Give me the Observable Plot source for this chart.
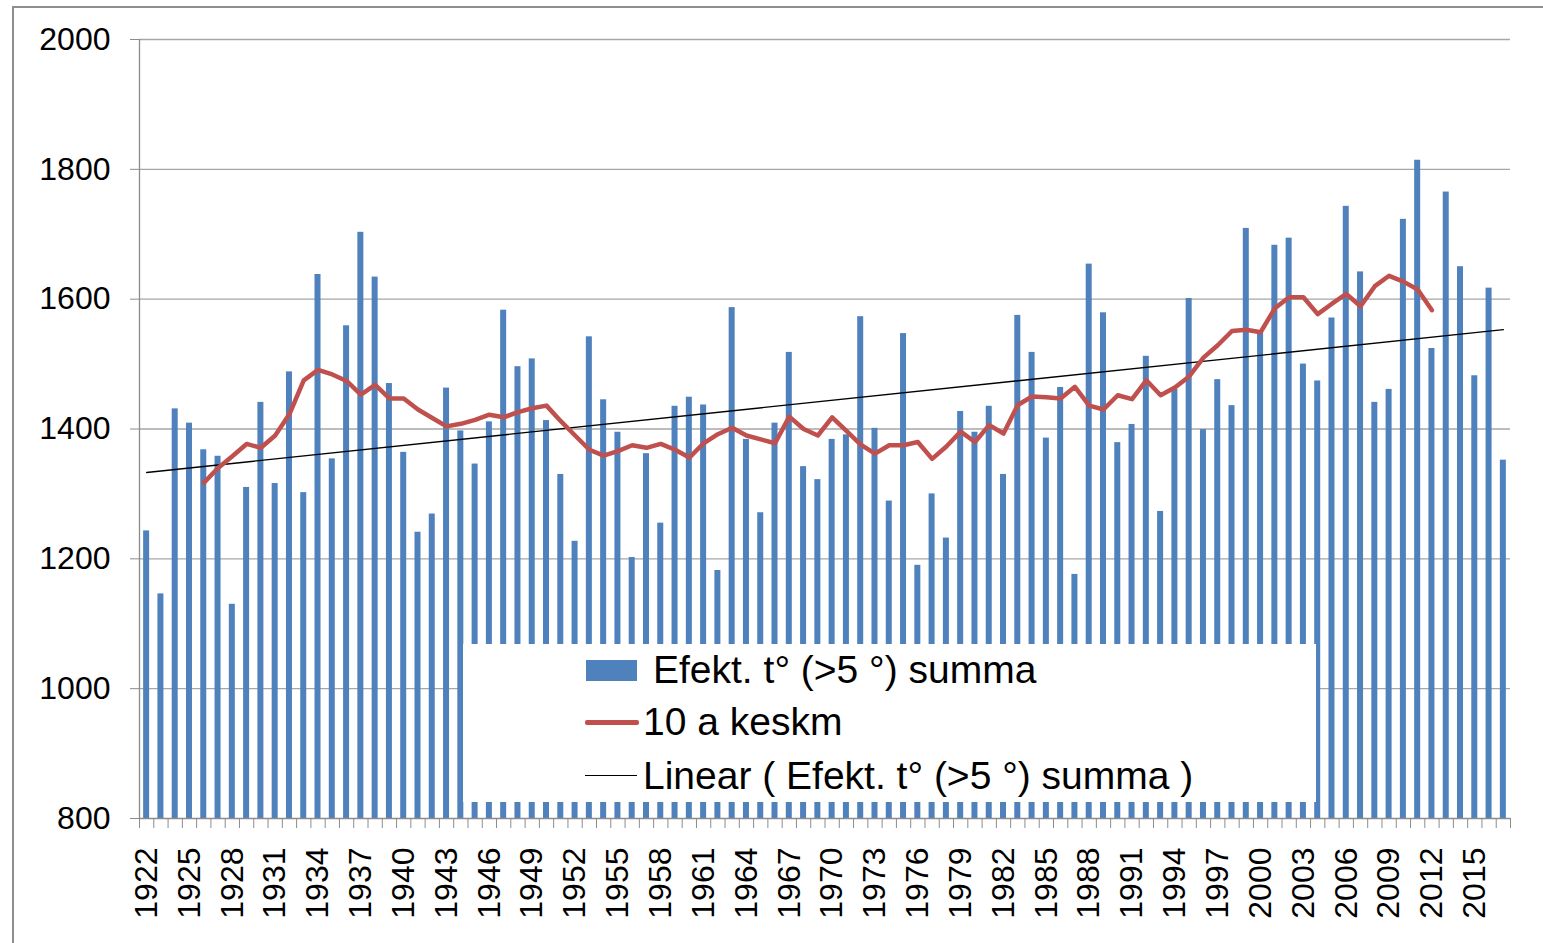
<!DOCTYPE html>
<html>
<head>
<meta charset="utf-8">
<script src="https://cdn.jsdelivr.net/npm/d3@7"></script>
<script src="https://cdn.jsdelivr.net/npm/@observablehq/plot@0.6"></script>
<style>
  html, body { margin: 0; padding: 0; background: #fff; overflow: hidden; }
  #wrap { position: relative; width: 1543px; height: 943px; overflow: hidden; font-family: "Liberation Sans", Arial, sans-serif; }
  #frame { position: absolute; left: 12px; top: 6px; width: 1600px; height: 1000px; border: 2px solid #8e8e8e; box-sizing: border-box; }
  #chart { position: absolute; left: 0; top: 0; }
  #legend { position: absolute; left: 463px; top: 644px; width: 853px; height: 158px; background: #fff; }
  .item { position: absolute; font-size: 39px; color: #000; white-space: nowrap; line-height: 40px; }
  .sw { position: absolute; }
</style>
</head>
<body>
<div id="wrap">
  <div id="frame"></div>
  <div id="chart"></div>
  <div id="legend"></div>
</div>
<script>
// ---- data ----
const years = d3.range(1922, 2018);
const sums = [
  1243,1146,1431,1409,1368,1358,1130,1310,1441,1316,1488,1302,1638,1354,1559,1703,1634,
  1470,1364,1241,1269,1463,1397,1346,1411,1583,1496,1508,1413,1330,1227,1542,1445,1395,
  1202,1362,1255,1435,1449,1437,1182,1587,1384,1271,1409,1518,1342,1322,1384,1391,1573,
  1401,1289,1547,1190,1300,1232,1427,1395,1435,1330,1575,1518,1386,1464,1176,1654,
  1579,1379,1407,1512,1273,1461,1601,1399,1476,1436,1709,1548,1683,1694,1500,1474,1571,
  1743,1642,1441,1461,1723,1814,1524,1765,1650,1482,1617,1352
];
const avgYears = d3.range(1926, 2013);
const avg10 = [
  1317,1340,1358,1377,1371,1390,1423,1475,1491,1484,1474,1453,1468,
  1447,1447,1430,1417,1404,1408,1414,1422,1418,1426,1432,1436,1412,1390,1368,1359,1366,
  1375,1371,1377,1368,1356,1378,1392,1402,1390,1384,1378,1419,1400,1390,1418,1397,1376,
  1362,1375,1375,1380,1354,1373,1396,1380,1406,1393,1437,1450,1449,1447,1465,1436,
  1430,1452,1446,1475,1452,1464,1481,1510,1529,1551,1553,1549,1586,1603,1603,1577,1593,
  1608,1589,1620,1636,1627,1615,1583
];
const trendYears = [1922, 2017];
const trendValues = [1333, 1553];
const yTicks = [800, 1000, 1200, 1400, 1600, 1800, 2000];
const baseline = 800;
const labelYears = years.filter((y, i) => i % 3 === 0);

const seriesNames = ["Efekt. t° (>5 °) summa", "10 a keskm", "Linear ( Efekt. t° (>5 °) summa )"];
const colors = ["#4f81bd", "#c0504d", "#000000"];

const bars = years.map((year, i) => ({year, value: sums[i]}));
const avg = avgYears.map((year, i) => ({year, value: avg10[i]}));
const trend = trendYears.map((year, i) => ({year, value: trendValues[i]}));

// ---- layout ----
const W = 1543, H = 943, mL = 139, mR = 33, mT = 39, mB = 125;
const step = (W - mL - mR) / years.length;
const axisGray = "#8c8c8c";

const chart = Plot.plot({
  width: W, height: H,
  marginLeft: mL, marginRight: mR, marginTop: mT, marginBottom: mB,
  style: {fontFamily: "'Liberation Sans', Arial, sans-serif", fontSize: "32px", color: "#000", background: "transparent", overflow: "visible"},
  x: {type: "band", domain: years, paddingInner: 0.58, paddingOuter: 0.29, round: false},
  y: {domain: [800, 2000]},
  marks: [
    Plot.gridY(yTicks.slice(1), {stroke: "#a6a6a6", strokeOpacity: 1, strokeWidth: 1.3}),
    Plot.barY(bars, {x: "year", y1: () => baseline, y2: "value", fill: colors[0]}),
    Plot.line(trend, {x: "year", y: "value", stroke: colors[2], strokeWidth: 1.3}),
    Plot.line(avg, {x: "year", y: "value", stroke: colors[1], strokeWidth: 4.5, strokeLinejoin: "round"}),
    Plot.ruleY([baseline], {stroke: axisGray, strokeWidth: 1.3}),
    Plot.ruleX([years[0]], {y1: 800, y2: 2000, dx: -step / 2, stroke: axisGray, strokeWidth: 1.3}),
    Plot.axisY({ticks: yTicks, tickSize: 9, tickPadding: 20, fontSize: 32, tickFormat: d => String(d), stroke: axisGray, fill: "#000", label: null}),
    Plot.axisX({ticks: years, tickSize: 10, tickFormat: () => "", dx: -step / 2, stroke: axisGray, label: null}),
    Plot.axisX({ticks: [years[years.length - 1]], tickSize: 10, tickFormat: () => "", dx: step / 2, stroke: axisGray, label: null}),
    Plot.axisX({ticks: labelYears, tickSize: 0, tickPadding: 29, tickRotate: -90, fontSize: 32, tickFormat: d => String(d), fill: "#000", label: null})
  ]
});
document.getElementById("chart").appendChild(chart);

// ---- legend ----
const legend = document.getElementById("legend");
const L = 463, T = 644;
const items = [
  {sw: {left: 586, top: 660, width: 51, height: 21, background: colors[0]}, text: seriesNames[0], tx: 653, ty: 670},
  {sw: {left: 585, top: 720, width: 54, height: 5, background: colors[1], borderRadius: "2px"}, text: seriesNames[1], tx: 643, ty: 722},
  {sw: {left: 585, top: 775, width: 52, height: 1.4, background: colors[2]}, text: seriesNames[2], tx: 643, ty: 776}
];
for (const it of items) {
  const s = document.createElement("div");
  s.className = "sw";
  s.style.left = (it.sw.left - L) + "px";
  s.style.top = (it.sw.top - T) + "px";
  s.style.width = it.sw.width + "px";
  s.style.height = it.sw.height + "px";
  s.style.background = it.sw.background;
  if (it.sw.borderRadius) s.style.borderRadius = it.sw.borderRadius;
  legend.appendChild(s);
  const t = document.createElement("div");
  t.className = "item";
  t.textContent = it.text;
  t.style.left = (it.tx - L) + "px";
  t.style.top = (it.ty - T - 20) + "px";
  legend.appendChild(t);
}
</script>
</body>
</html>
